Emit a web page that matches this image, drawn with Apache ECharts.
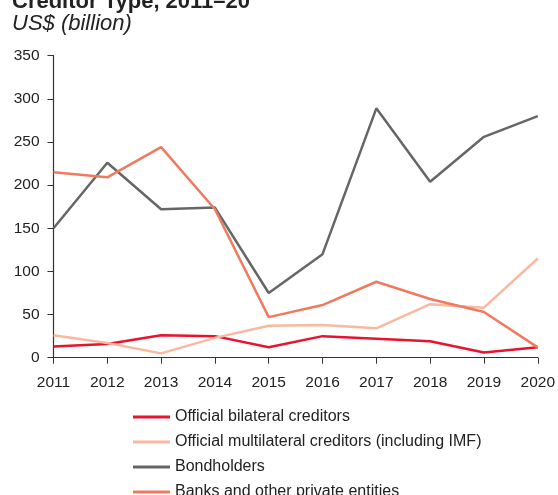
<!DOCTYPE html>
<html>
<head>
<meta charset="utf-8">
<style>
  html, body { margin: 0; padding: 0; background: #fff; }
  #chart { width: 558px; height: 495px; }
</style>
<script src="https://cdn.jsdelivr.net/npm/echarts@6/dist/echarts.min.js"></script>
</head>
<body>
<div id="chart"></div>
<script>
const years = ['2011', '2012', '2013', '2014', '2015', '2016', '2017', '2018', '2019', '2020']

const bilateral = [13, 16, 26, 25, 12, 25, 22, 19, 6, 12]
const multilateral = [26, 17, 5, 23, 37, 38, 34, 62, 58, 115]
const bondholders = [150, 226, 172, 174, 75, 120, 289, 204, 256, 280]
const banks = [215, 209, 244, 172, 47, 61, 88, 68, 53, 12]

const seriesNames = [
  'Official bilateral creditors',
  'Official multilateral creditors (including IMF)',
  'Bondholders',
  'Banks and other private entities'
]
const colors = ['#e8132f', '#f9b9a1', '#666666', '#f07a60']

const font = 'Liberation Sans, Arial, Helvetica, sans-serif'

const chart = echarts.init(document.getElementById('chart'))

function line(name, data, color) {
  return {
    name,
    type: 'line',
    data,
    symbol: 'none',
    lineStyle: { color, width: 2.5 },
    itemStyle: { color },
    z: 2,
    animation: false
  }
}

chart.setOption({
  textStyle: { fontFamily: font },
  graphic: [
    {
      type: 'text',
      left: 12,
      top: -9,
      style: { text: 'Creditor Type, 2011\u201320', font: 'bold 22px ' + font, fill: '#222' }
    },
    {
      type: 'text',
      left: 12,
      top: 13,
      style: { text: 'US$ (billion)', font: 'italic 22px ' + font, fill: '#222' }
    }
  ],
  legend: {
    orient: 'vertical',
    left: 128,
    top: 404,
    height: 200,
    itemWidth: 37,
    itemHeight: 3,
    itemGap: 9,
    icon: 'rect',
    textStyle: { fontSize: 16, color: '#222', fontFamily: font },
    data: seriesNames
  },
  grid: {
    left: 53.5,
    right: 20,
    top: 55.7,
    bottom: 137.3,
    containLabel: false
  },
  xAxis: {
    type: 'category',
    data: years,
    boundaryGap: false,
    axisLine: { lineStyle: { color: '#333', width: 1.2 } },
    axisTick: { alignWithLabel: true, length: 6, lineStyle: { color: '#333' } },
    axisLabel: { fontSize: 15.5, color: '#222', margin: 17 },
    splitLine: { show: false }
  },
  yAxis: {
    type: 'value',
    min: 0,
    max: 350,
    interval: 50,
    axisLine: { show: true, lineStyle: { color: '#333', width: 1.2 } },
    axisTick: { show: true, length: 6, lineStyle: { color: '#333' } },
    axisLabel: { fontSize: 15.5, color: '#222', margin: 14 },
    splitLine: { show: false }
  },
  series: [
    line(seriesNames[0], bilateral, colors[0]),
    line(seriesNames[1], multilateral, colors[1]),
    line(seriesNames[2], bondholders, colors[2]),
    line(seriesNames[3], banks, colors[3])
  ]
})
</script>
</body>
</html>
